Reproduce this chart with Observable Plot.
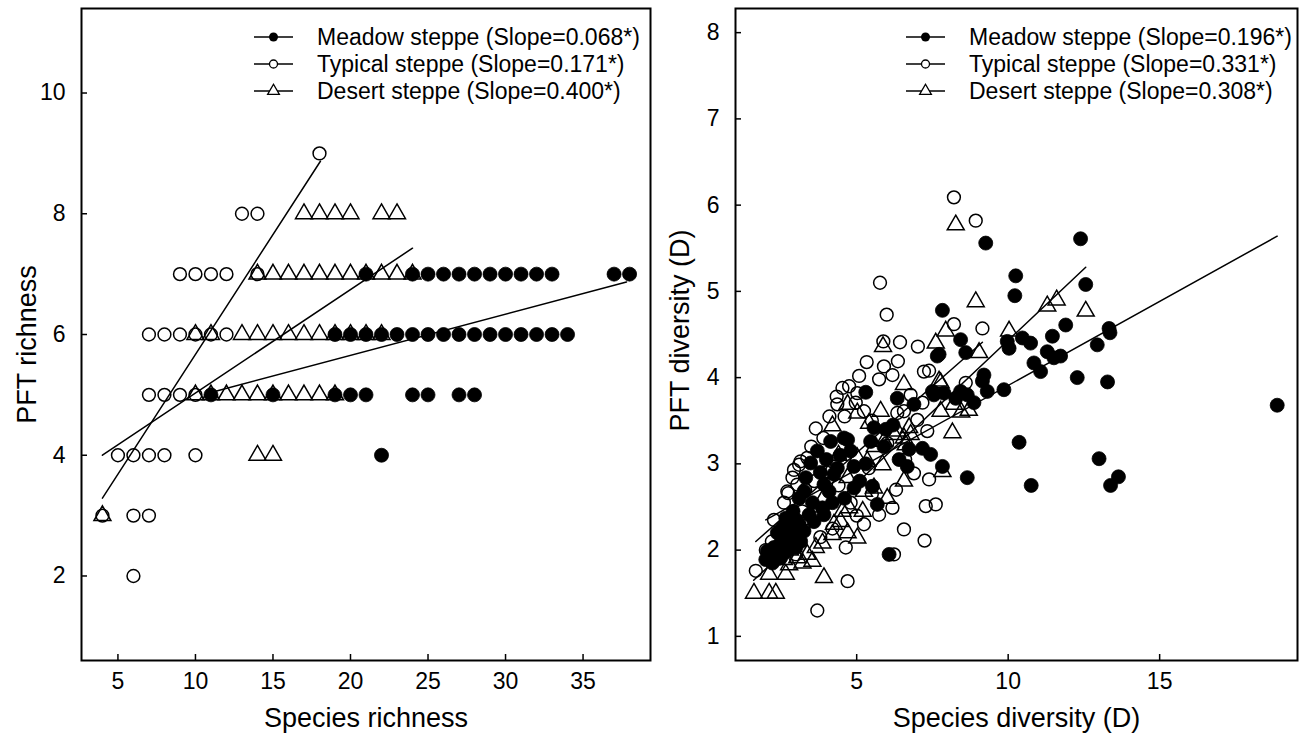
<!DOCTYPE html>
<html><head><meta charset="utf-8">
<script src="https://cdn.jsdelivr.net/npm/d3@7"></script>
<script src="https://cdn.jsdelivr.net/npm/@observablehq/plot@0.6"></script>
<style>
body{margin:0;background:#fff;}
#wrap{display:flex;width:1299px;height:735px;overflow:hidden;}
</style></head><body><div id="wrap"></div>
<script>
// ---------- DATA ----------
const groupNames = ["Meadow steppe", "Typical steppe", "Desert steppe"];
const leftSlopes = ["0.068*", "0.171*", "0.400*"];
const rightSlopes = ["0.196*", "0.331*", "0.308*"];

const leftXTicks = [5, 10, 15, 20, 25, 30, 35];
const leftYTicks = [2, 4, 6, 8, 10];
const rightXTicks = [5, 10, 15];
const rightYTicks = [1, 2, 3, 4, 5, 6, 7, 8];

// Left panel: species richness vs PFT richness
const leftMeadow = [
  [21,7],[24,7],[25,7],[26,7],[27,7],[28,7],[29,7],[30,7],[31,7],[32,7],[33,7],[37,7],[38,7],
  [19,6],[20,6],[21,6],[22,6],[23,6],[24,6],[25,6],[26,6],[27,6],[28,6],[29,6],[30,6],[31,6],[32,6],[33,6],[34,6],
  [11,5],[15,5],[19,5],[20,5],[21,5],[24,5],[25,5],[27,5],[28,5],
  [22,4]
];
const leftTypical = [
  [18,9],
  [13,8],[14,8],
  [9,7],[10,7],[11,7],[12,7],[14,7],
  [7,6],[8,6],[9,6],[10,6],[11,6],[12,6],
  [7,5],[8,5],[9,5],[10,5],
  [5,4],[6,4],[7,4],[8,4],[10,4],
  [4,3],[6,3],[7,3],
  [6,2]
];
const leftDesert = [
  [17,8],[18,8],[19,8],[20,8],[22,8],[23,8],
  [14,7],[15,7],[16,7],[17,7],[18,7],[19,7],[20,7],[21,7],[22,7],[23,7],[24,7],
  [10,6],[11,6],[13,6],[14,6],[15,6],[16,6],[17,6],[18,6],[19,6],[20,6],[21,6],[22,6],
  [10,5],[11,5],[12,5],[13,5],[14,5],[15,5],[16,5],[17,5],[18,5],[19,5],
  [14,4],[15,4],
  [4,3]
];
const leftMeadowFit = [[11, 5.04], [37.8, 6.87]];
const leftTypicalFit = [[4, 4.0], [24, 7.43]];
const leftDesertFit = [[4, 3.29], [18.06, 8.87]];

// Right panel: species diversity vs PFT diversity
const rightMeadow = [
  [9.26,5.56],[12.39,5.61],[10.25,5.18],[10.22,4.95],[12.56,5.08],[7.83,4.78],
  [8.43,4.44],[8.6,4.29],[9.97,4.42],[10.03,4.34],[10.47,4.46],[10.74,4.4],[11.46,4.48],[11.9,4.61],
  [13.33,4.57],[13.36,4.52],[12.94,4.38],[11.29,4.3],[11.51,4.23],[11.73,4.25],[10.85,4.17],[11.07,4.07],
  [9.2,4.03],[9.15,3.96],[9.31,3.84],[9.86,3.86],[12.28,4.0],[13.28,3.95],[18.88,3.68],[8.87,3.71],
  [8.43,3.84],[8.65,3.8],[8.27,3.76],[10.36,3.25],[13.0,3.06],[8.65,2.84],[10.76,2.75],[13.64,2.85],[13.38,2.75],
  [7.72,4.27],[7.66,4.25],[7.55,3.8],[7.88,3.82],[6.89,3.69],[6.34,3.76],[5.3,3.83],[7.5,3.84],
  [5.57,3.42],[5.96,3.4],[5.46,3.26],[6.73,3.17],[6.67,2.97],[6.4,3.05],[7.17,3.18],[7.44,3.11],[7.83,2.97],
  [4.58,3.3],[4.7,3.28],[4.14,3.26],[3.7,3.15],[3.48,3.01],[3.32,2.84],[4.25,2.88],[4.36,2.95],[4.91,2.97],
  [3.92,2.76],[4.09,2.68],[4.91,2.72],[5.52,2.74],[5.68,2.53],[3.54,2.55],[3.87,2.49],[3.92,2.41],[3.43,2.41],
  [3.59,2.33],[3.1,2.6],[3.26,2.68],
  [2.66,2.37],[2.77,2.3],[2.55,2.26],[2.38,2.2],[2.66,2.18],[2.82,2.14],[2.49,2.08],[2.27,2.03],[2.05,1.99],
  [2.0,1.89],[2.22,1.85],[2.49,1.91],[2.71,1.99],[2.99,2.03],[3.15,2.1],[2.99,2.2],[3.26,2.22],[6.07,1.95],
  [4.0,3.05],[4.45,3.1],[3.8,2.9],[4.6,2.6],[5.1,2.8],[5.3,3.0],[4.2,2.55],[3.0,2.35],[2.9,2.45],
  [2.35,1.95],[2.6,2.0],[2.8,2.25],[3.1,2.3],[6.2,3.45],[5.9,3.2],[4.8,3.15]
];
const rightTypical = [
  [8.21,6.09],[8.93,5.82],[8.21,4.62],[9.15,4.57],[8.6,3.94],[5.77,5.1],[5.99,4.73],[5.88,4.42],[6.43,4.41],
  [7.02,4.36],[5.33,4.18],[6.36,4.19],[5.9,4.13],[5.08,4.02],[5.74,3.98],[6.18,4.03],[7.22,4.07],[7.39,4.08],
  [4.34,3.78],[4.53,3.88],[4.75,3.9],[5.02,3.82],[4.36,3.69],[4.97,3.71],[5.24,3.61],[6.78,3.8],[7.17,3.71],
  [6.34,3.59],[6.56,3.61],[3.65,3.41],[7.0,3.51],[7.33,3.38],[6.01,3.24],
  [2.93,2.93],[3.1,2.99],[2.88,2.84],[3.04,2.76],[3.15,3.03],[3.37,3.07],[2.74,2.66],[6.89,2.89],[7.39,2.82],
  [6.18,2.49],[5.74,2.41],[5.24,2.3],[4.64,2.03],[6.56,2.24],[7.28,2.51],[7.61,2.53],[7.24,2.11],[1.67,1.76],
  [2.27,2.35],[4.7,1.64],[3.7,1.3],[6.23,1.95],[2.71,2.68],
  [3.5,3.2],[3.9,3.3],[4.1,3.55],[4.6,3.55],[5.5,3.5],[3.3,2.7],[3.6,2.8],[4.4,2.75],[4.8,2.55],[5.0,2.4],
  [4.2,2.25],[3.8,2.15],[2.5,2.2],[2.2,2.1],[2.0,2.0],[2.4,1.9],[3.0,1.95],[5.5,2.65],[6.3,2.7],[6.6,3.05],
  [5.4,2.95],[3.2,2.45],[2.6,2.55],[4.0,2.9]
];
const rightDesert = [
  [8.27,5.77],[8.93,4.88],[10.03,4.54],[11.29,4.83],[11.6,4.9],[12.56,4.77],[9.04,4.29],[8.45,3.6],[8.7,3.62],
  [8.16,3.36],[7.94,4.54],[7.61,4.4],[5.87,4.36],[7.72,3.96],[6.56,3.92],[8.21,3.69],[7.77,3.61],
  [6.78,3.34],[6.62,3.22],[7.83,2.91],[6.56,2.8],
  [4.7,3.69],[5.02,3.59],[4.2,3.44],[5.79,3.61],[7.77,3.94],[5.41,3.47],[5.9,3.26],[6.23,3.34],[6.34,3.38],
  [6.56,3.3],[6.73,3.42],[5.85,2.99],[5.02,3.07],[5.35,3.03],[4.7,2.84],[5.24,2.68],[5.57,2.72],[6.01,2.6],
  [4.53,2.45],[4.75,2.49],[4.25,2.3],[4.47,2.33],[4.2,2.18],[4.7,2.2],[5.02,2.14],[3.65,2.03],[3.87,2.08],
  [3.37,1.95],[3.54,1.87],[3.04,1.91],[3.21,1.85],[2.6,1.89],[2.77,1.83],[2.11,1.72],[2.66,1.72],[3.92,1.68],
  [1.61,1.5],[2.11,1.5],[2.33,1.5],
  [3.3,2.35],[3.6,2.5],[3.9,2.6],[4.1,2.9],[3.0,2.2],[2.8,2.0],[4.4,3.1],[5.6,3.2],[5.2,2.45]
];
const rightMeadowFit = [[2.0, 2.35], [18.88, 5.64]];
const rightTypicalFit = [[1.6, 1.65], [12.56, 5.28]];
const rightDesertFit = [[1.67, 2.1], [9.15, 4.41]];

// ---------- DRAWING ----------
const FONT = "Liberation Sans, Arial, Helvetica, sans-serif";

function legendMark(slopes) {
  return (index, scales, values, dims) => {
    const g = d3.create("svg:g").attr("font-family", FONT).attr("font-size", 23)
      .attr("text-anchor", "start");
    const rowsY = [37, 64, 91];
    groupNames.forEach((name, i) => {
      const y = rowsY[i];
      g.append("line").attr("x1", 254).attr("x2", 293).attr("y1", y).attr("y2", y)
        .attr("stroke", "black").attr("stroke-width", 1.5);
      if (i === 0) g.append("circle").attr("cx", 273.5).attr("cy", y).attr("r", 4.5).attr("fill", "black");
      if (i === 1) g.append("circle").attr("cx", 273.5).attr("cy", y).attr("r", 4).attr("fill", "white").attr("stroke", "black").attr("stroke-width", 1.3);
      if (i === 2) g.append("path").attr("transform", `translate(273.5,${y})`)
        .attr("d", d3.symbol(d3.symbolTriangle, 60)()).attr("fill", "white").attr("stroke", "black").attr("stroke-width", 1.3);
      g.append("text").attr("x", 317).attr("y", y).attr("dy", "0.35em").attr("fill", "black")
        .attr("text-anchor", "start")
        .text(`${name} (Slope=${slopes[i]})`);
    });
    return g.node();
  };
}

function panel(o) {
  const pt = {x: d => d[0], y: d => d[1]};
  return Plot.plot({
    width: o.width, height: 735,
    marginLeft: o.ml, marginRight: 2, marginTop: 8, marginBottom: 75,
    style: {fontFamily: FONT, fontSize: "23px", color: "black", background: "white"},
    x: {domain: o.xDomain},
    y: {domain: o.yDomain},
    marks: [
      Plot.line(o.fits[0], {...pt, stroke: "black", strokeWidth: 1.5}),
      Plot.line(o.fits[1], {...pt, stroke: "black", strokeWidth: 1.5}),
      Plot.line(o.fits[2], {...pt, stroke: "black", strokeWidth: 1.5}),
      Plot.dot(o.meadow, {...pt, r: 7, fill: "black", stroke: "black", strokeWidth: 0.8}),
      Plot.dot(o.typical, {...pt, r: 6.4, fill: "none", stroke: "black", strokeWidth: 1.5}),
      Plot.dot(o.desert, {...pt, symbol: "triangle", r: 6.3, fill: "none", stroke: "black", strokeWidth: 1.5}),
      Plot.axisX({ticks: o.xTicks, tickSize: -6, tickPadding: 18, label: null, fontSize: 23, strokeWidth: 1.5}),
      Plot.axisY({ticks: o.yTicks, tickSize: -6, tickPadding: 22, label: null, fontSize: 23, strokeWidth: 1.5}),
      Plot.frame({stroke: "black", strokeWidth: 2}),
      Plot.text([o.xLabel], {frameAnchor: "bottom", dy: 58, text: d => d, fontSize: 27, lineAnchor: "middle", textAnchor: "middle"}),
      Plot.text([o.yLabel], {frameAnchor: "left", dx: o.yTitleDx, dy: o.yTitleDy, rotate: -90, text: d => d, fontSize: 27, lineAnchor: "middle", textAnchor: "middle"}),
      legendMark(o.slopes)
    ]
  });
}

const wrap = document.getElementById("wrap");
wrap.appendChild(panel({
  width: 652, ml: 81, xDomain: [2.65, 39.35], yDomain: [0.6, 11.4],
  xTicks: leftXTicks, yTicks: leftYTicks,
  meadow: leftMeadow, typical: leftTypical, desert: leftDesert,
  fits: [leftMeadowFit, leftTypicalFit, leftDesertFit],
  xLabel: "Species richness", yLabel: "PFT richness", yTitleDx: -54, yTitleDy: 10,
  slopes: leftSlopes
}));
wrap.appendChild(panel({
  width: 647, ml: 83, xDomain: [1.0, 19.55], yDomain: [0.72, 8.28],
  xTicks: rightXTicks, yTicks: rightYTicks,
  meadow: rightMeadow, typical: rightTypical, desert: rightDesert,
  fits: [rightMeadowFit, rightTypicalFit, rightDesertFit],
  xLabel: "Species diversity (D)", yLabel: "PFT diversity (D)", yTitleDx: -55, yTitleDy: -4,
  slopes: rightSlopes
}));
</script></body></html>
